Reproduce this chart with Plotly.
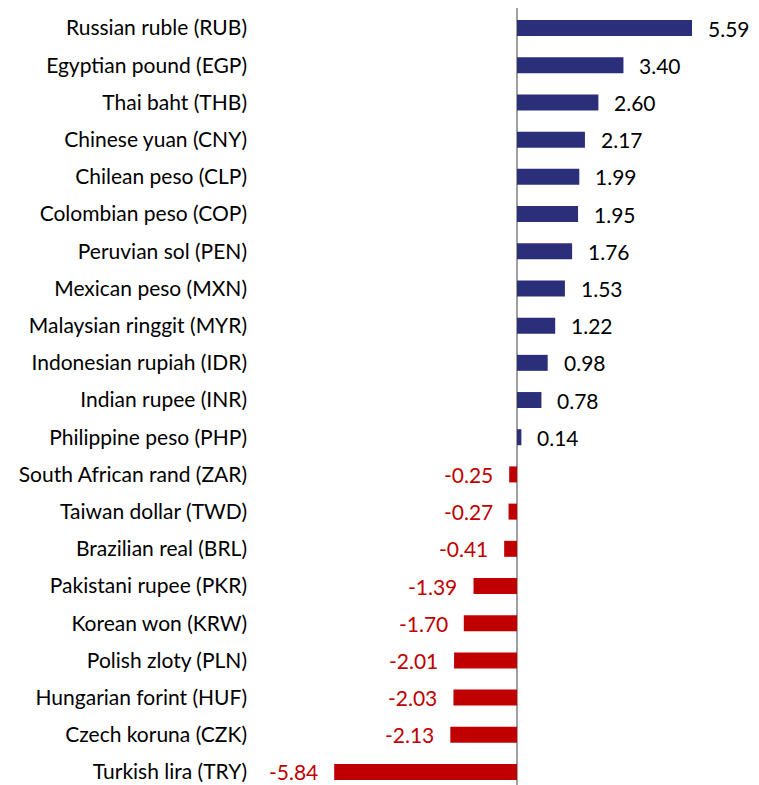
import plotly.graph_objects as go

currencies = ["Russian ruble (RUB)", "Egyptian pound (EGP)", "Thai baht (THB)", "Chinese yuan (CNY)",
              "Chilean peso (CLP)", "Colombian peso (COP)", "Peruvian sol (PEN)", "Mexican peso (MXN)",
              "Malaysian ringgit (MYR)", "Indonesian rupiah (IDR)", "Indian rupee (INR)",
              "Philippine peso (PHP)", "South African rand (ZAR)", "Taiwan dollar (TWD)",
              "Brazilian real (BRL)", "Pakistani rupee (PKR)", "Korean won (KRW)", "Polish zloty (PLN)",
              "Hungarian forint (HUF)", "Czech koruna (CZK)", "Turkish lira (TRY)"]
values = [5.59, 3.40, 2.60, 2.17, 1.99, 1.95, 1.76, 1.53, 1.22, 0.98, 0.78, 0.14,
          -0.25, -0.27, -0.41, -1.39, -1.70, -2.01, -2.03, -2.13, -5.84]

POS = "#2B2F7A"
NEG = "#C00000"
colors = [POS if v >= 0 else NEG for v in values]
FONT = "Lato"
FS = 21

fig = go.Figure(go.Bar(
    x=values, y=currencies, orientation="h",
    marker=dict(color=colors, line=dict(width=0)),
    hoverinfo="skip",
))

for c, v, col in zip(currencies, values, colors):
    fig.add_annotation(
        x=v, y=c, xref="x", yref="y", text=f"{v:.2f}", showarrow=False,
        xanchor="left" if v >= 0 else "right", xshift=14 if v >= 0 else -14,
        font=dict(family=FONT, size=FS, color="#000000" if v >= 0 else NEG),
    )

fig.update_layout(
    width=751, height=777,
    margin=dict(l=257, r=0, t=0, b=0),
    paper_bgcolor="white", plot_bgcolor="white",
    bargap=0.57,
    showlegend=False,
    font=dict(family=FONT, size=FS, color="#000000"),
    xaxis=dict(range=[-8.05, 7.73], showgrid=False, showticklabels=False, ticks="",
               zeroline=True, zerolinecolor="#A0A0A0", zerolinewidth=2, showline=False),
    yaxis=dict(categoryorder="array", categoryarray=currencies, range=[20.35, -0.54],
               showgrid=False, ticks="", showline=False, automargin=False,
               ticklabelstandoff=17, tickfont=dict(family=FONT, size=FS, color="#000000")),
)

fig.write_html("out.html")
